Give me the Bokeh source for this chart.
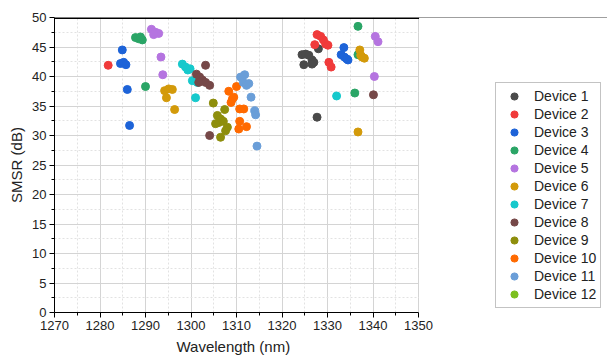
from bokeh.plotting import figure
from bokeh.models import (Legend, LegendItem, Span, Range1d, FixedTicker, ColumnDataSource,
                          BoxAnnotation, Title)
from bokeh.embed import file_html
from bokeh.resources import INLINE

FONT = "Liberation Sans"
NA = float("nan")

devices = ["Device 1", "Device 2", "Device 3", "Device 4", "Device 5", "Device 6",
           "Device 7", "Device 8", "Device 9", "Device 10", "Device 11", "Device 12"]
colors = ["#4a4a4a", "#f03a3a", "#1d63d8", "#2aa566", "#b574e0", "#d39a0a",
          "#16c9cc", "#764848", "#8e8e0c", "#ff6a00", "#6a9ed8", "#7cc01e"]

d1_x = [1324.4, 1325.2, 1325.9, 1326.6, 1327.0, 1324.8, 1326.6, 1328.0, 1327.7]
d1_y = [43.7, 43.8, 43.6, 42.8, 42.4, 42.0, 42.1, 44.7, 33.1]
d2_x = [1281.8, 1327.7, 1328.5, 1329.1, 1329.6, 1330.1, 1327.2, 1330.3, 1330.8]
d2_y = [41.9, 47.1, 46.8, 46.2, 45.5, 45.3, 45.4, 42.4, 41.6]
d3_x = [1284.9, 1284.5, 1285.2, 1285.7, 1286.0, 1286.5, 1333.6, 1333.0, 1333.7, 1334.5, 1334.2]
d3_y = [44.5, 42.2, 42.4, 42.0, 37.8, 31.7, 44.9, 43.7, 43.3, 42.8, 43.0]
d4_x = [1287.8, 1288.5, 1289.3, 1288.9, 1290.0, 1336.7, 1336.7, 1336.0]
d4_y = [46.6, 46.4, 46.2, 46.7, 38.3, 48.5, 43.7, 37.2]
d5_x = [1291.3, 1292.2, 1292.9, 1291.8, 1293.4, 1293.8, 1340.5, 1341.1, 1340.3]
d5_y = [48.0, 47.5, 47.3, 47.1, 43.3, 40.3, 46.8, 45.9, 40.0]
d6_x = [1294.2, 1295.1, 1295.9, 1294.6, 1296.4, 1337.1, 1337.3, 1337.6, 1338.1, 1336.7]
d6_y = [37.6, 37.9, 37.8, 36.4, 34.4, 44.5, 43.6, 43.3, 43.1, 30.6]
d7_x = [1298.1, 1298.8, 1299.3, 1299.8, 1300.3, 1301.0, 1301.4, 1332.0]
d7_y = [42.1, 41.6, 41.1, 41.3, 39.3, 36.4, 39.0, 36.7]
d8_x = [1301.2, 1303.2, 1301.9, 1302.5, 1303.2, 1304.1, 1301.7, 1304.1, 1340.1]
d8_y = [40.4, 41.9, 39.9, 39.4, 39.0, 38.5, 39.0, 30.0, 36.9]
d9_x = [1304.9, 1307.4, 1305.8, 1306.5, 1306.1, 1305.4, 1307.1, 1308.0, 1307.6, 1306.5]
d9_y = [35.5, 34.4, 33.4, 32.8, 32.2, 32.0, 32.4, 31.4, 30.8, 29.7]
d10_x = [1308.3, 1310.0, 1309.1, 1309.4, 1308.8, 1310.7, 1311.6, 1310.7, 1312.2, 1310.5]
d10_y = [37.5, 38.3, 36.2, 36.5, 35.6, 34.5, 34.5, 32.4, 31.5, 31.1]
d11_x = [1310.9, 1311.8, 1311.5, 1312.2, 1312.7, 1313.2, 1314.0, 1314.2, 1314.5]
d11_y = [39.9, 40.3, 39.0, 38.5, 38.8, 36.5, 34.2, 33.5, 28.2]
d12_x = [NA]  # no visible points for Device 12 in the chart
d12_y = [NA]

series_x = [d1_x, d2_x, d3_x, d4_x, d5_x, d6_x, d7_x, d8_x, d9_x, d10_x, d11_x, d12_x]
series_y = [d1_y, d2_y, d3_y, d4_y, d5_y, d6_y, d7_y, d8_y, d9_y, d10_y, d11_y, d12_y]

x_ticks = [1270, 1280, 1290, 1300, 1310, 1320, 1330, 1340, 1350]
y_ticks = [0, 5, 10, 15, 20, 25, 30, 35, 40, 45, 50]
X_MIN, X_MAX = 1270, 1350
x_title = "Wavelength (nm)"
y_title = "SMSR (dB)"

# the frame spans to the right edge of the page so the legend can sit beside the data area
LEFT, AXIS_PX, TOTAL_W = 54, 364, 607
x_view_end = X_MIN + (X_MAX - X_MIN) * (TOTAL_W - LEFT) / AXIS_PX

p = figure(width=TOTAL_W, height=361, output_backend="svg", toolbar_location=None,
           x_range=Range1d(X_MIN, x_view_end), y_range=Range1d(0, 50),
           min_border_left=LEFT, min_border_right=0, min_border_top=17, min_border_bottom=49)
p.outline_line_color = None
p.background_fill_color = "white"
p.border_fill_color = "white"

for ax in (p.xaxis[0], p.yaxis[0]):
    ax.axis_line_color = "black"
    ax.axis_line_width = 1
    ax.major_tick_line_color = "black"
    ax.minor_tick_line_color = "black"
    ax.major_tick_out = 5
    ax.major_tick_in = 0
    ax.minor_tick_out = 3
    ax.minor_tick_in = 0
    ax.major_label_text_font = FONT
    ax.major_label_text_font_size = "13px"
    ax.major_label_text_color = "#222222"
    ax.axis_label_text_font = FONT
    ax.axis_label_text_font_size = "15px"
    ax.axis_label_text_font_style = "normal"
    ax.axis_label_text_color = "#222222"
    ax.major_label_standoff = 3

p.yaxis[0].axis_label_standoff = 4
p.xaxis[0].bounds = (X_MIN, X_MAX)
p.xaxis[0].ticker = FixedTicker(ticks=x_ticks, minor_ticks=[1275 + 10 * i for i in range(8)])
p.yaxis[0].ticker = FixedTicker(ticks=y_ticks, minor_ticks=[2.5 + 5 * i for i in range(10)])
p.yaxis[0].axis_label = y_title

# x-axis title centred under the data region (not under the whole frame)
xt = Title(text=x_title, align="left", offset=122, text_font=FONT, text_font_size="15px",
           text_font_style="normal", text_color="#222222", standoff=6)
p.add_layout(xt, "below")

for g in (p.xgrid[0], p.ygrid[0]):
    g.grid_line_color = "#d4d4d4"
    g.grid_line_width = 1
    g.minor_grid_line_color = "#e2e2e2"
    g.minor_grid_line_dash = "2 2"

top = Span(location=50, dimension="width", line_color="black", line_width=3)
p.add_layout(top)

items = []
for name, c, xs, ys in zip(devices, colors, series_x, series_y):
    src = ColumnDataSource(data=dict(x=xs, y=ys))
    r = p.scatter("x", "y", source=src, size=8, fill_color=c, line_color=c)
    items.append(LegendItem(label=name, renderers=[r], index=0))

# blank out the area right of the data region
cover = BoxAnnotation(left=X_MAX + 0.12, fill_color="white", fill_alpha=1, line_alpha=0)
p.add_layout(cover)

legend = Legend(items=items, location=(441, 4),
                glyph_height=18, glyph_width=28, label_height=18, spacing=0,
                padding=4, margin=0, label_standoff=6,
                label_text_font=FONT, label_text_font_size="14px", label_text_color="#222222",
                border_line_color="#888888", border_line_width=1,
                background_fill_color="white", background_fill_alpha=1)
p.add_layout(legend, "center")

open("out.html", "w").write(file_html(p, INLINE))
